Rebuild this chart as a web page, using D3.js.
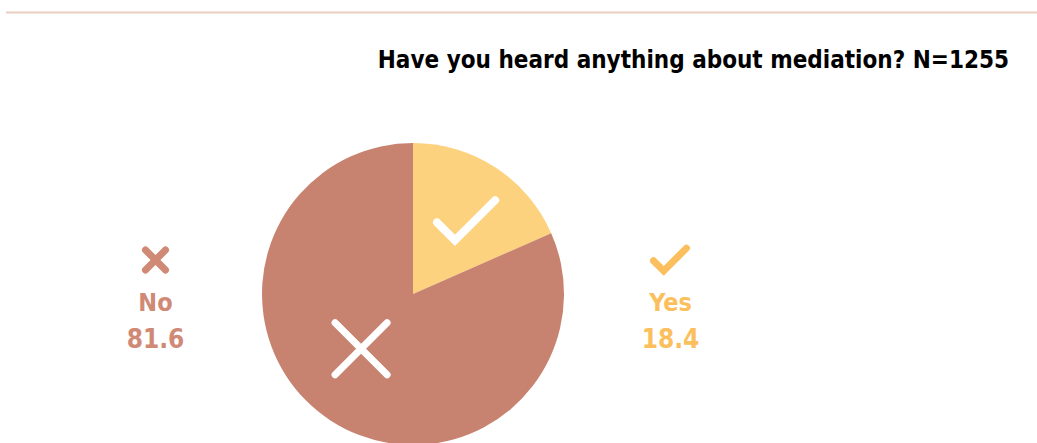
<!DOCTYPE html>
<html>
<head>
<meta charset="utf-8">
<script src="https://cdn.jsdelivr.net/npm/d3@7"></script>
<style>
  html, body { margin: 0; padding: 0; background: #fff; }
  svg { display: block; font-family: "DejaVu Sans Condensed", "DejaVu Sans", sans-serif; font-stretch: condensed; }
</style>
</head>
<body>
<svg id="chart" width="1037" height="443"></svg>
<script>
// Survey answers (percent of respondents)
const categories = ["Yes", "No"];
const values = [18.4, 81.6];
const labels = ["Yes", "No"];
const titleText = "Have you heard anything about mediation? N=1255";

const sliceColors = { Yes: "#fdd27e", No: "#c7836f" };
const legendColors = { Yes: "#fbbf5e", No: "#cf8975" };

const W = 1037, H = 443;
const svg = d3.select("#chart");

// thin rule along the top
svg.append("line")
  .attr("x1", 6).attr("x2", W)
  .attr("y1", 12.5).attr("y2", 12.5)
  .attr("stroke", "#ebcdc2").attr("stroke-width", 2);

svg.append("text")
  .attr("x", 1009).attr("y", 68)
  .attr("text-anchor", "end")
  .attr("font-weight", "bold")
  .attr("font-size", 24)
  .attr("fill", "#000")
  .text(titleText);

const cx = 413, cy = 294, R = 151;
const data = categories.map((c, i) => ({ cat: c, value: values[i], label: labels[i] }));

const pie = d3.pie().sort(null).value(d => d.value);
const arcs = pie(data);
const arc = d3.arc().innerRadius(0).outerRadius(R);

const g = svg.append("g").attr("transform", `translate(${cx},${cy})`);
g.selectAll("path.slice")
  .data(arcs)
  .join("path")
  .attr("class", "slice")
  .attr("d", arc)
  .attr("fill", d => sliceColors[d.data.cat]);

// glyph paths centred on the origin
function checkPath(s) {
  return `M${-0.5 * s},${0.02 * s} L${-0.2 * s},${0.32 * s} L${0.47 * s},${-0.35 * s}`;
}
function crossPath(s) {
  const h = s / 2;
  return `M${-h},${-h} L${h},${h} M${h},${-h} L${-h},${h}`;
}

// white glyphs inside each slice
const glyphPlace = { Yes: { r: 0.6, shift: 0.06 }, No: { r: 0.5, shift: 0.18 } };
g.selectAll("path.glyph")
  .data(arcs)
  .join("path")
  .attr("class", "glyph")
  .attr("transform", d => {
    const p = glyphPlace[d.data.cat];
    const a = (d.startAngle + d.endAngle) / 2 + p.shift;
    const r = p.r * R;
    return `translate(${r * Math.sin(a)},${-r * Math.cos(a)})`;
  })
  .attr("d", d => d.data.cat === "Yes" ? checkPath(60) : crossPath(52))
  .attr("fill", "none")
  .attr("stroke", "#fff")
  .attr("stroke-width", d => d.data.cat === "Yes" ? 8 : 7)
  .attr("stroke-linecap", "round")
  .attr("stroke-linejoin", "miter");

// side labels
const legendX = { No: 155.5, Yes: 670.5 };
const legend = svg.selectAll("g.legend")
  .data(data)
  .join("g")
  .attr("class", "legend")
  .attr("transform", d => `translate(${legendX[d.cat]},0)`);

legend.append("path")
  .attr("transform", "translate(0,260)")
  .attr("d", d => d.cat === "Yes" ? checkPath(34) : crossPath(20))
  .attr("fill", "none")
  .attr("stroke", d => legendColors[d.cat])
  .attr("stroke-width", 7)
  .attr("stroke-linecap", "round");

legend.append("text")
  .attr("y", 311)
  .attr("text-anchor", "middle")
  .attr("font-weight", "bold")
  .attr("font-size", 25)
  .attr("fill", d => legendColors[d.cat])
  .text(d => d.label);

legend.append("text")
  .attr("y", 348)
  .attr("text-anchor", "middle")
  .attr("font-weight", "bold")
  .attr("font-size", 26)
  .attr("fill", d => legendColors[d.cat])
  .text(d => d.value.toFixed(1));
</script>
</body>
</html>
